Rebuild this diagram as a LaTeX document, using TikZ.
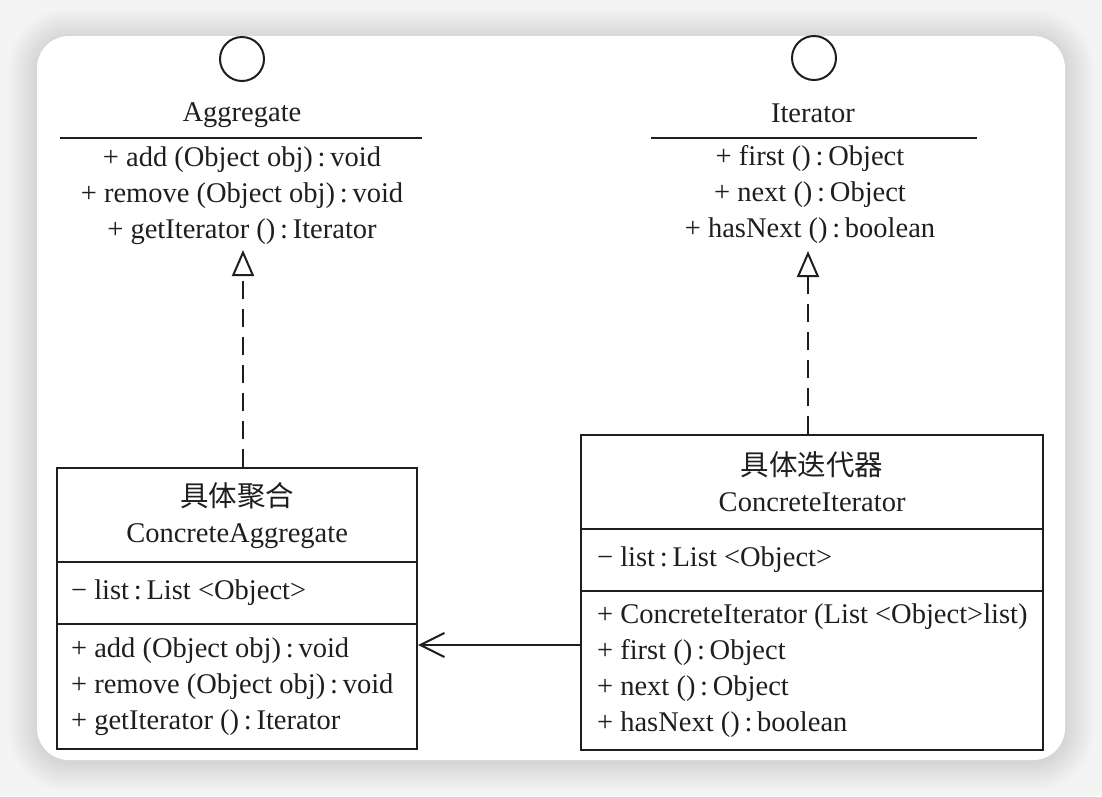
\documentclass[tikz,border=0pt]{standalone}
\usepackage{fontspec}
\setmainfont{Liberation Serif}
\newfontfamily\cjk{Noto Sans CJK SC}
\usetikzlibrary{arrows.meta}
\definecolor{ink}{HTML}{1E1E1E}
\definecolor{bg}{HTML}{F4F4F4}
\begin{document}
\begin{tikzpicture}[x=1pt,y=-1pt,
  font=\fontsize{28.5}{36}\selectfont,
  every node/.style={text=ink},
  ln/.style={draw=ink,line width=2pt},
  iface/.style={circle,draw=ink,line width=2pt,minimum size=44pt,inner sep=0pt},
  ops/.style={align=center,inner sep=0pt},
  cbox/.style={draw=ink,line width=2.2pt,inner ysep=0pt,anchor=north west},
  lbox/.style={cbox,align=flush left},
  realize/.style={draw=ink,line width=2pt,dash pattern=on 18pt off 10pt,
    -{Triangle[open,length=26pt,width=22pt,line width=2pt,sep=0pt]}},
  assoc/.style={draw=ink,line width=2pt,
    -{Straight Barb[length=24pt,width=24pt,line width=2pt]}}
]
\useasboundingbox (0,0) rectangle (1102,796);
\fill[bg] (0,0) rectangle (1102,796);
% soft shadow
\foreach \k in {1,...,30}{
  \pgfmathsetmacro{\r}{32+\k}
  \fill[black,opacity=0.0035,rounded corners=\r pt] ({37-\k},{38-\k}) rectangle ({1065+\k},{762+\k});
}
\fill[white,rounded corners=32pt] (37,36) rectangle (1065,760);

% ---- Aggregate interface
\node[iface] (aggCirc) at (242,59) {};
\node (aggName) at (242,115) {Aggregate};
\draw[ln] (60,138) -- (422,138);
\node[ops] (aggOps) at (242,196) {+ add (Object obj)\,:\,void\\+ remove (Object obj)\,:\,void\\+ getIterator ()\,:\,Iterator};

% ---- Iterator interface
\node[iface] (itCirc) at (814,58) {};
\node (itName) at (813,113) {Iterator};
\draw[ln] (651,138) -- (977,138);
\node[ops] (itOps) at (810,194) {+ first ()\,:\,Object\\+ next ()\,:\,Object\\+ hasNext ()\,:\,boolean};

% ---- ConcreteAggregate
\node[cbox,minimum width=360pt,minimum height=94pt,align=center] (caTitle) at (56,467)
  {{\cjk 具体聚合}\\ConcreteAggregate};
\node[lbox,minimum width=360pt,minimum height=62pt,inner xsep=14pt,text width=332pt] (caAttr) at (56,561)
  {− list\,:\,List <Object>};
\node[lbox,minimum width=360pt,minimum height=125pt,inner xsep=14pt,text width=332pt] (caOps) at (56,623)
  {\mbox{+ add (Object obj)\,:\,void}\\\mbox{+ remove (Object obj)\,:\,void}\\\mbox{+ getIterator ()\,:\,Iterator}};

% ---- ConcreteIterator
\node[cbox,minimum width=462pt,minimum height=94pt,align=center] (ciTitle) at (580,434)
  {{\cjk 具体迭代器}\\ConcreteIterator};
\node[lbox,minimum width=462pt,minimum height=62pt,inner xsep=16pt,text width=430pt] (ciAttr) at (580,528)
  {− list\,:\,List <Object>};
\node[lbox,minimum width=462pt,minimum height=159pt,inner xsep=16pt,text width=430pt] (ciOps) at (580,590)
  {\mbox{+ ConcreteIterator (List <Object>list)}\\\mbox{+ first ()\,:\,Object}\\\mbox{+ next ()\,:\,Object}\\\mbox{+ hasNext ()\,:\,boolean}};

% ---- connectors
\coordinate (aggTip) at (243,250);
\coordinate (itTip) at (808,251);
\coordinate (assocY) at (0,645);
\draw[realize] (caTitle.north -| aggTip) -- (aggTip);
\draw[realize] (ciTitle.north -| itTip) -- (itTip);
\draw[assoc] (ciOps.west |- assocY) -- (caOps.east |- assocY);
\end{tikzpicture}
\end{document}
